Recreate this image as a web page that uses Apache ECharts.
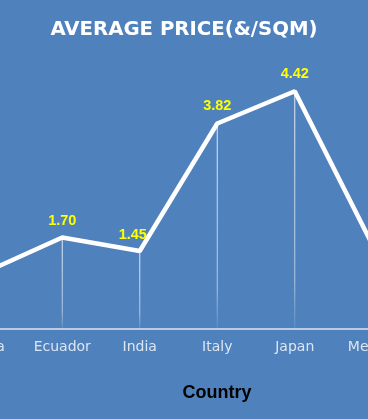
<!DOCTYPE html>
<html><head><meta charset="utf-8">
<script src="https://cdn.jsdelivr.net/npm/echarts@6/dist/echarts.min.js"></script>
<style>html,body{margin:0;padding:0;background:#4f81bd;overflow:hidden;width:368px;height:419px}
#c{position:absolute;left:-54px;top:0;width:465px;height:419px}</style>
</head><body><div id="c"></div>
<script>
var categories = ["China", "Ecuador", "India", "Italy", "Japan", "Mexico"];
var avgPrice = [1.05, 1.70, 1.45, 3.82, 4.42, 1.57];
var labelShown = [false, true, true, true, true, false];
var titleText = "AVERAGE PRICE(&/SQM)";
var xAxisTitle = "Country";

var chart = echarts.init(document.getElementById('c'), null, {renderer: 'canvas'});
var lineData = avgPrice.map(function (v, i) {
  return {
    value: v,
    label: { offset: i === 2 ? [-7, 1] : [0, 0] }
  };
});
chart.setOption({
  backgroundColor: '#4f81bd',
  animation: false,
  title: [{
    text: titleText, left: 233, textAlign: 'center', top: 15,
    textStyle: { color: '#ffffff', fontSize: 19.7, fontWeight: 'bold', fontFamily: 'DejaVu Sans' }
  }, {
    text: xAxisTitle, left: 266, textAlign: 'center', top: 379,
    textStyle: { color: '#000000', fontSize: 18, fontWeight: 'bold', fontFamily: 'Liberation Sans' }
  }],
  grid: { left: 0, right: 0, top: 60, bottom: 90, containLabel: false },
  xAxis: {
    type: 'category', data: categories, boundaryGap: true,
    axisLine: { lineStyle: { color: '#dce6f2', width: 1.5 } },
    axisTick: { show: false },
    axisLabel: { interval: 0, color: '#dce6f2', fontSize: 14, fontFamily: 'DejaVu Sans', margin: 11 }
  },
  yAxis: { type: 'value', min: 0, max: 5, show: false, splitLine: { show: false } },
  series: [{
    type: 'bar', data: avgPrice, barWidth: 1, silent: true,
    itemStyle: {
      color: new echarts.graphic.LinearGradient(0, 0, 0, 1, [
        { offset: 0, color: 'rgba(255,255,255,0.85)' },
        { offset: 0.8, color: 'rgba(255,255,255,0.55)' },
        { offset: 1, color: 'rgba(255,255,255,0.1)' }
      ])
    }
  }, {
    type: 'line', data: lineData, symbol: 'circle', symbolSize: 1, showSymbol: true, z: 3,
    itemStyle: { color: '#ffffff' },
    lineStyle: { color: '#ffffff', width: 4.5 },
    label: {
      show: true, position: 'top', distance: 9, color: '#ffff00', fontSize: 14.5, fontWeight: 'bold',
      fontFamily: 'Liberation Sans',
      formatter: function (p) { return labelShown[p.dataIndex] ? p.value.toFixed(2) : ''; }
    }
  }]
});
</script></body></html>
